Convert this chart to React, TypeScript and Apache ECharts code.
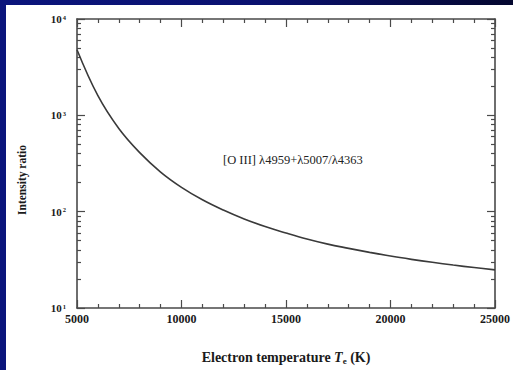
import React, { useEffect, useRef } from 'react';
import * as echarts from 'echarts';

// Electron temperature (K)
const temperatures = [5000, 6000, 7000, 8000, 9000, 10000, 11000, 12000, 13000, 14000, 15000, 16000, 17000, 18000, 19000, 20000, 21000, 22000, 23000, 24000, 25000];
// [O III] intensity ratio
const intensityRatios = [4800, 1600, 730, 410, 258, 179, 133, 104, 84, 70, 60, 52, 46, 41.6, 37.8, 34.6, 32, 29.8, 27.9, 26.3, 24.9];

const xMin = 5000;
const xMax = 25000;
const xMajorStep = 5000;
const yMajorTicks = [10, 100, 1000, 10000];
const yMinorMultipliers = [2, 3, 4, 5, 6, 7, 8, 9];
const yMinorTicks = yMajorTicks.slice(0, 3).flatMap((d) => yMinorMultipliers.map((m) => d * m));

const annotation = '[O III] λ4959+λ5007/λ4363';
const yAxisTitle = 'Intensity ratio';

const SERIF = '"Liberation Serif", "DejaVu Serif", serif';
const AXIS_COLOR = '#4a4a4a';
const TEXT_COLOR = '#1a1a1a';

export default function App() {
  const ref = useRef<HTMLDivElement>(null);

  useEffect(() => {
    if (!ref.current) return;
    const chart = echarts.init(ref.current, null, { renderer: 'svg' });

    const axisLine = { show: true, lineStyle: { color: AXIS_COLOR, width: 1.6 } };

    const xBase = (pos: 'bottom' | 'top', showLabel: boolean) => ({
      type: 'value',
      position: pos,
      min: xMin,
      max: xMax,
      interval: xMajorStep,
      axisLine,
      axisTick: { show: true, inside: true, length: 8, lineStyle: { color: AXIS_COLOR, width: 1.2 } },
      minorTick: { show: true, splitNumber: 5, length: 4, lineStyle: { color: AXIS_COLOR, width: 1.2 } },
      splitLine: { show: false },
      minorSplitLine: { show: false },
      axisLabel: {
        show: showLabel,
        margin: 5,
        color: TEXT_COLOR,
        fontFamily: SERIF,
        fontWeight: 'bold',
        fontSize: 12,
        formatter: (v: number) => String(v),
      },
      ...(showLabel
        ? {
            name: '{n|Electron temperature }{i|T}{sub|e}{n| (K)}',
            nameLocation: 'middle',
            nameGap: 41,
            nameTextStyle: {
              rich: {
                n: { fontFamily: SERIF, fontWeight: 'bold', fontSize: 14, color: TEXT_COLOR },
                i: { fontFamily: SERIF, fontWeight: 'bold', fontStyle: 'italic', fontSize: 14, color: TEXT_COLOR },
                sub: { fontFamily: SERIF, fontWeight: 'bold', fontSize: 9, color: TEXT_COLOR, padding: [7, 0, 0, 0] },
              },
            },
          }
        : {}),
    });

    const yMajor = (pos: 'left' | 'right', showLabel: boolean) => ({
      type: 'log',
      logBase: 10,
      position: pos,
      min: 10,
      max: 10000,
      axisLine,
      axisTick: { show: true, inside: true, length: 8, customValues: yMajorTicks, lineStyle: { color: AXIS_COLOR, width: 1.2 } },
      splitLine: { show: false },
      axisLabel: {
        show: showLabel,
        margin: 11,
        customValues: yMajorTicks,
        formatter: (v: number) => `{b|10}{s|${Math.round(Math.log10(v))}}`,
        rich: {
          b: { fontFamily: SERIF, fontWeight: 'bold', fontSize: 11, color: TEXT_COLOR },
          s: { fontFamily: SERIF, fontWeight: 'bold', fontSize: 6.5, color: TEXT_COLOR, padding: [0, 0, 4, 1] },
        },
      },
    });

    const yMinor = (pos: 'left' | 'right') => ({
      type: 'log',
      logBase: 10,
      position: pos,
      min: 10,
      max: 10000,
      axisLine: { show: false },
      axisTick: { show: true, inside: true, length: 4, customValues: yMinorTicks, lineStyle: { color: AXIS_COLOR, width: 1.2 } },
      axisLabel: { show: false },
      splitLine: { show: false },
    });

    chart.setOption({
      animation: false,
      backgroundColor: 'transparent',
      grid: { left: 77, right: 18, top: 19, bottom: 53 },
      xAxis: [xBase('bottom', true), xBase('top', false)],
      yAxis: [yMajor('left', true), yMajor('right', false), yMinor('left'), yMinor('right')],
      series: [
        {
          type: 'line',
          xAxisIndex: 0,
          yAxisIndex: 0,
          data: temperatures.map((t, i) => [t, intensityRatios[i]]),
          smooth: 0.4,
          showSymbol: false,
          lineStyle: { color: '#3a3a3a', width: 1.6 },
        },
      ],
      graphic: [
        {
          type: 'text',
          x: 223,
          y: 160,
          style: {
            text: annotation,
            fontFamily: SERIF,
            fontSize: 12.5,
            fill: '#222',
            textVerticalAlign: 'middle',
          },
        },
        {
          type: 'text',
          x: 22,
          y: 180,
          rotation: Math.PI / 2,
          style: {
            text: yAxisTitle,
            fontFamily: SERIF,
            fontWeight: 'bold',
            fontSize: 11.5,
            fill: TEXT_COLOR,
            textAlign: 'center',
            textVerticalAlign: 'middle',
          },
        },
      ],
    });

    return () => chart.dispose();
  }, []);

  return (
    <div
      style={{
        position: 'fixed',
        left: 0,
        top: 0,
        width: 513,
        height: 370,
        background: 'linear-gradient(90deg, #0b157c 0%, #0a1170 50%, #04072f 100%)',
        overflow: 'hidden',
      }}
    >
      <div style={{ position: 'absolute', left: 6, top: 5, right: 0, bottom: 0, background: '#ffffff' }} />
      <div ref={ref} style={{ position: 'absolute', left: 0, top: 0, width: 513, height: 370 }} />
    </div>
  );
}
